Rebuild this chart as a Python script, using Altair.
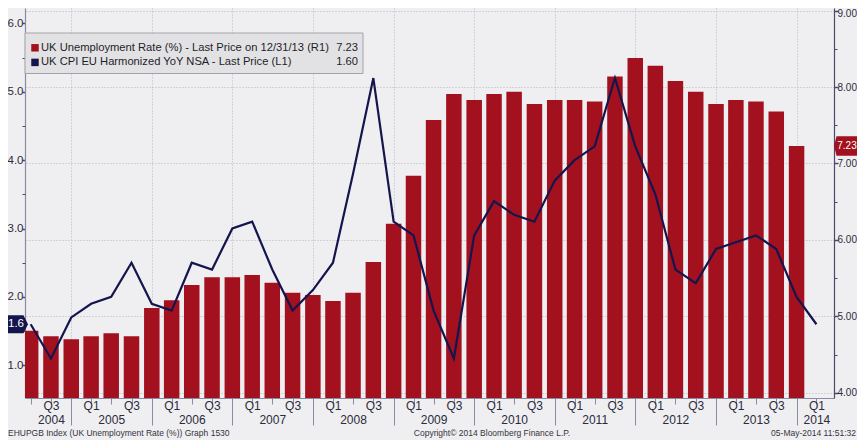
import altair as alt
import pandas as pd

# ---------------- data ----------------
quarter_ends = [
    "2004-06-30", "2004-09-30", "2004-12-31",
    "2005-03-31", "2005-06-30", "2005-09-30", "2005-12-31",
    "2006-03-31", "2006-06-30", "2006-09-30", "2006-12-31",
    "2007-03-31", "2007-06-30", "2007-09-30", "2007-12-31",
    "2008-03-31", "2008-06-30", "2008-09-30", "2008-12-31",
    "2009-03-31", "2009-06-30", "2009-09-30", "2009-12-31",
    "2010-03-31", "2010-06-30", "2010-09-30", "2010-12-31",
    "2011-03-31", "2011-06-30", "2011-09-30", "2011-12-31",
    "2012-03-31", "2012-06-30", "2012-09-30", "2012-12-31",
    "2013-03-31", "2013-06-30", "2013-09-30", "2013-12-31",
    "2014-03-31",
]

# UK Unemployment Rate (%), right axis (R1), Q2 2004 .. Q4 2013
unemployment = [
    4.81, 4.74, 4.70,
    4.74, 4.78, 4.74, 5.11,
    5.21, 5.41, 5.51, 5.51,
    5.54, 5.44, 5.31, 5.28,
    5.20, 5.31, 5.71, 6.21,
    6.84, 7.57, 7.91, 7.83,
    7.91, 7.94, 7.78, 7.83,
    7.83, 7.81, 8.14, 8.38,
    8.28, 8.08, 7.94, 7.78,
    7.83, 7.81, 7.68, 7.23,
]

# UK CPI EU Harmonized YoY NSA, left axis (L1), Q2 2004 .. Q1 2014
cpi = [
    1.6, 1.1, 1.7,
    1.9, 2.0, 2.5, 1.9,
    1.8, 2.5, 2.4, 3.0,
    3.1, 2.4, 1.8, 2.1,
    2.5, 3.8, 5.2, 3.1,
    2.9, 1.8, 1.1, 2.9,
    3.4, 3.2, 3.1, 3.7,
    4.0, 4.2, 5.2, 4.2,
    3.5, 2.4, 2.2, 2.7,
    2.8, 2.9, 2.7, 2.0,
    1.6,
]

series_names = [
    "UK Unemployment Rate (%) - Last Price on 12/31/13 (R1)",
    "UK CPI EU Harmonized YoY NSA - Last Price (L1)",
]
last_values = ["7.23", "1.60"]

right_ticks = [4, 5, 6, 7, 8, 9]
right_minor = [4.5, 5.5, 6.5, 7.5, 8.5]
left_ticks = [1, 2, 3, 4, 5, 6]
left_minor = [1.5, 2.5, 3.5, 4.5, 5.5]

footer_left = "EHUPGB Index (UK Unemployment Rate (%)) Graph 1530"
footer_mid = "Copyright\u00a9 2014 Bloomberg Finance L.P."
footer_right = "05-May-2014 11:51:32"

# ---------------- styling ----------------
RED = "#a3111f"
NAVY = "#15154e"
FONT = "Liberation Sans, Arial, sans-serif"
LABEL_COLOR = "#2b2b3b"
GRID_COLOR = "#b4b4bc"
BG = "#efeff1"

W, H = 809, 390
right_domain = [3.931, 9.035]
left_domain = [0.522, 6.224]


def dt(s):
    y, m, d = map(int, s.split("-"))
    return alt.DateTime(year=y, month=m, date=d, utc=True)


x_scale = alt.Scale(type="utc", domain=[dt("2004-06-27"), dt("2014-05-27")])
quarter_ticks = [dt(s) for s in quarter_ends]
year_ticks = [dt(s) for s in quarter_ends if s.endswith("12-31")]

label_expr = (
    "[utcmonth(datum.value) == 2 ? 'Q1' : (utcmonth(datum.value) == 8 ? 'Q3' : ''), "
    "((utcmonth(datum.value) == 5 && utcyear(datum.value) > 2004) || "
    "(utcyear(datum.value) == 2004 && utcmonth(datum.value) == 8) || "
    "utcyear(datum.value) == 2014) ? utcFormat(datum.value, '%Y') : '']"
)

# ---------------- right (bars) group ----------------
bars_df = pd.DataFrame({"date": quarter_ends[: len(unemployment)], "rate": unemployment})
bars = alt.Chart(bars_df).mark_bar(color=RED, width=15.5, clip=True).encode(
    x=alt.X(
        "date:T",
        scale=x_scale,
        title=None,
        axis=alt.Axis(
            orient="bottom", values=quarter_ticks, labelExpr=label_expr,
            tickSize=6, labelPadding=-4, labelFlush=False, labelOverlap=False,
            labelBound=False, grid=False, domainColor="#8a8aa2", tickColor="#8a8aa2",
            labelFontSize=12, labelLineHeight=14.5, labelColor=LABEL_COLOR, labelFont=FONT,
        ),
    ),
    y=alt.Y(
        "rate:Q",
        scale=alt.Scale(domain=right_domain),
        title=None,
        axis=alt.Axis(
            orient="right", values=right_ticks, format=".2f", grid=True,
            gridDash=[1, 2], gridColor=GRID_COLOR, tickSize=4, labelPadding=-1,
            labelOffset={"condition": {"test": "datum.value == 9", "value": 3}, "value": 0},
            domainColor="#4a4a6a", tickColor="#4a4a6a", tickWidth=1.5,
            labelFontSize=10, labelColor=LABEL_COLOR, labelFont=FONT,
        ),
    ),
)

tag_r_df = pd.DataFrame({"v": [unemployment[-1]], "label": [last_values[0]]})
tag_r_path = "M -1 0 L -0.78 -0.85 L 1 -0.85 L 1 0.85 L -0.78 0.85 Z"
red_tag = alt.Chart(tag_r_df).mark_point(
    shape=tag_r_path, filled=True, color=RED, size=23 * 23, opacity=1, strokeWidth=0
).encode(
    x=alt.value(W + 11.5),
    y=alt.Y(
        "v:Q", scale=alt.Scale(domain=right_domain), title=None,
        axis=alt.Axis(orient="right", values=right_minor, labels=False, tickSize=3,
                      domain=False, grid=False, tickColor="#4a4a6a"),
    ),
)
red_tag_text = alt.Chart(tag_r_df).mark_text(
    color="white", fontSize=10, font=FONT, align="center", baseline="middle"
).encode(
    x=alt.value(W + 13),
    y=alt.Y("v:Q", scale=alt.Scale(domain=right_domain), axis=None),
    text="label:N",
)
right_group = alt.layer(bars, red_tag, red_tag_text).resolve_axis(y="independent")

# ---------------- left (line) group ----------------
line_df = pd.DataFrame({"date": quarter_ends, "cpi": cpi})
line = alt.Chart(line_df).mark_line(color=NAVY, strokeWidth=2.2, clip=True).encode(
    x=alt.X(
        "date:T",
        scale=x_scale,
        title=None,
        axis=alt.Axis(
            orient="bottom", values=year_ticks, labels=False, tickSize=27,
            domain=False, grid=True, gridDash=[1, 2], gridColor=GRID_COLOR,
            tickColor="#8a8aa2",
        ),
    ),
    y=alt.Y(
        "cpi:Q",
        scale=alt.Scale(domain=left_domain),
        title=None,
        axis=alt.Axis(
            orient="left", values=left_ticks, format=".1f", grid=False,
            tickSize=3, labelPadding=-1, domainColor="#8a8aa2", tickColor="#4a4a6a",
            tickWidth=1.5, labelFontSize=11.5, labelColor=LABEL_COLOR, labelFont=FONT,
        ),
    ),
)

tag_l_df = pd.DataFrame({"v": [cpi[-1]], "label": ["1.6"]})
tag_l_path = "M -1 -0.9 L 0.55 -0.9 L 1 0 L 0.55 0.9 L -1 0.9 Z"
navy_tag = alt.Chart(tag_l_df).mark_point(
    shape=tag_l_path, filled=True, color=NAVY, size=20 * 20, opacity=1, strokeWidth=0
).encode(
    x=alt.value(-7),
    y=alt.Y(
        "v:Q", scale=alt.Scale(domain=left_domain), title=None,
        axis=alt.Axis(orient="left", values=left_minor, labels=False, tickSize=3,
                      domain=False, grid=False, tickColor="#4a4a6a"),
    ),
)
navy_tag_text = alt.Chart(tag_l_df).mark_text(
    color="white", fontSize=11.5, font=FONT, align="center", baseline="middle"
).encode(
    x=alt.value(-9),
    y=alt.Y("v:Q", scale=alt.Scale(domain=left_domain), axis=None),
    text="label:N",
)
left_group = alt.layer(line, navy_tag, navy_tag_text).resolve_axis(y="independent")

# ---------------- legend box ----------------
one = pd.DataFrame({"k": [0]})
legend_box = alt.Chart(one).mark_rect(
    fill="#e2e2e5", stroke="#a2a2aa", strokeWidth=1
).encode(x=alt.value(0), x2=alt.value(338), y=alt.value(25), y2=alt.value(65.5))

legend_layers = [legend_box]
color_scale = alt.Scale(domain=series_names, range=[RED, NAVY])
for i, (name, val) in enumerate(zip(series_names, last_values)):
    ypos = 39.8 + i * 14.6
    row = pd.DataFrame({"series": [name], "value": [val]})
    legend_layers.append(
        alt.Chart(row).mark_square(size=56, opacity=1).encode(
            x=alt.value(10), y=alt.value(ypos),
            color=alt.Color("series:N", scale=color_scale, legend=None),
        )
    )
    legend_layers.append(
        alt.Chart(row).mark_text(
            align="left", baseline="middle", fontSize=11.2, font=FONT, color="#1e1e28"
        ).encode(x=alt.value(16), y=alt.value(ypos), text="series:N")
    )
    legend_layers.append(
        alt.Chart(row).mark_text(
            align="right", baseline="middle", fontSize=11.2, font=FONT, color="#1e1e28"
        ).encode(x=alt.value(333), y=alt.value(ypos), text="value:N")
    )

# ---------------- footer ----------------
footer_layers = []
for txt, xpos, al in [(footer_left, -17, "left"), (footer_mid, 467, "center"), (footer_right, W + 22, "right")]:
    footer_layers.append(
        alt.Chart(pd.DataFrame({"t": [txt]})).mark_text(
            align=al, baseline="middle", fontSize=8.5, font=FONT, color="#333340"
        ).encode(x=alt.value(xpos), y=alt.value(425), text="t:N")
    )

chart = (
    alt.layer(right_group, left_group, *legend_layers, *footer_layers)
    .resolve_scale(y="independent")
    .resolve_axis(x="independent", y="independent")
    .properties(
        width=W,
        height=H,
        autosize=alt.AutoSizeParams(type="none"),
        padding={"left": 17, "top": 0, "right": 23, "bottom": 42},
        background=BG,
    )
    .configure_view(strokeWidth=0)
    .configure_axis(labelFont=FONT, domainWidth=1.2)
)

chart.save("out.html", embed_options={"renderer": "svg", "actions": False})
